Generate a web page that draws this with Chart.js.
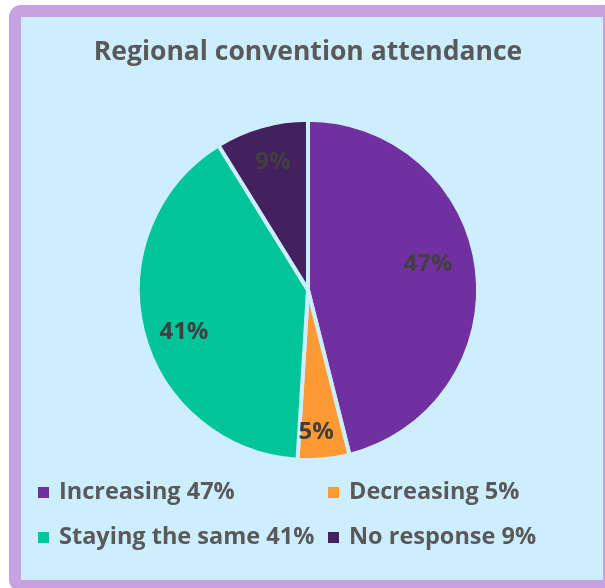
<!DOCTYPE html>
<html>
<head>
<meta charset="utf-8">
<script src="https://cdn.jsdelivr.net/npm/chart.js@4/dist/chart.umd.min.js"></script>
<style>
  html, body { margin: 0; padding: 0; background: #ffffff; }
  body { width: 605px; height: 588px; position: relative; overflow: hidden; }
  #frame {
    position: absolute; left: 9px; top: 5px; width: 582px; height: 563px;
    border: 12px solid #c8a2e0; border-radius: 12px; background: #cceeff;
  }
  #myChart { position: absolute; left: 0; top: 0; }
  #legend {
    position: absolute; left: 38px; top: 475px; width: 560px;
    display: grid; grid-template-columns: 290px 270px; row-gap: 15px;
    font-family: 'Open Sans', sans-serif; font-weight: bold; font-size: 23.5px; color: #595959;
  }
  #legend div { display: flex; align-items: center; height: 30px; white-space: nowrap; }
  #legend span.box { display: inline-block; width: 11px; height: 11px; margin-right: 10px; position: relative; top: 2px; }
</style>
</head>
<body>
<div id="frame"></div>
<canvas id="myChart" width="616" height="588"></canvas>
<div id="legend"></div>
<script>
const categorias = ['Increasing', 'Decreasing', 'Staying the same', 'No response'];
const valores = [47, 5, 41, 9];
const cores = ['#7030a0', '#ff9933', '#00c49a', '#45205e'];

// posição de cada rótulo: fração do raio e desvio angular (graus)
const posRotulo = [0.722, 0.837, 0.77, 0.78];
const desvioRotulo = [-5, 2, -4.6, 0.6];

const rotulosPlugin = {
    id: 'rotulos',
    afterDatasetsDraw(chart) {
        const ctx = chart.ctx;
        const arcs = chart.getDatasetMeta(0).data;
        ctx.save();
        ctx.font = 'bold 24px "Open Sans", sans-serif';
        ctx.fillStyle = '#404040';
        ctx.textAlign = 'center';
        ctx.textBaseline = 'middle';
        arcs.forEach((arc, i) => {
            const meio = (arc.startAngle + arc.endAngle) / 2 + desvioRotulo[i] * Math.PI / 180;
            const r = arc.outerRadius * posRotulo[i];
            ctx.fillText(valores[i] + '%', arc.x + Math.cos(meio) * r, arc.y + Math.sin(meio) * r);
        });
        ctx.restore();
    }
};

const grafico = () => {
    let ctx = document.getElementById('myChart').getContext('2d');
    new Chart(ctx, {
        type: 'pie',
        data: {
            labels: categorias,
            datasets: [{
                data: valores,
                backgroundColor: cores,
                borderColor: '#cceeff',
                borderWidth: 4
            }]
        },
        options: {
            responsive: false,
            animation: false,
            devicePixelRatio: 1,
            layout: { padding: { left: 0, right: 0, top: 0, bottom: 126 } },
            plugins: {
                legend: { display: false },
                tooltip: { enabled: false },
                title: {
                    display: true,
                    text: 'Regional convention attendance',
                    color: '#595959',
                    font: { family: '"Open Sans", sans-serif', size: 26.5, weight: 'bold', lineHeight: 1.2 },
                    padding: { top: 37, bottom: 49 }
                }
            }
        },
        plugins: [rotulosPlugin]
    });
}

const legenda = () => {
    let el = document.getElementById('legend');
    categorias.forEach((c, i) => {
        let item = document.createElement('div');
        let box = document.createElement('span');
        box.className = 'box';
        box.style.background = cores[i];
        item.appendChild(box);
        item.appendChild(document.createTextNode(c + ' ' + valores[i] + '%'));
        el.appendChild(item);
    });
}

grafico();
legenda();
</script>
</body>
</html>
